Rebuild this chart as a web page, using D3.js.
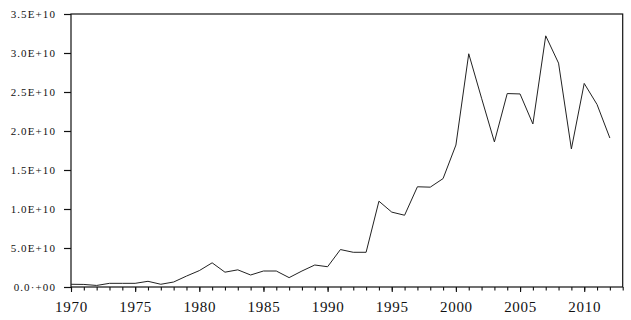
<!DOCTYPE html>
<html>
<head>
<meta charset="utf-8">
<script src="https://cdn.jsdelivr.net/npm/d3@7"></script>
<style>
  body { margin: 0; background: #fff; }
</style>
</head>
<body>
<div id="chart"></div>
<script>
// line chart, yearly values 1970-2012

const years = d3.range(1970, 2013);
// values in units of 1e9
const values = [0.35, 0.33, 0.2, 0.47, 0.47, 0.47, 0.73, 0.35, 0.64, 1.4,
  2.1, 3.1, 1.9, 2.2, 1.54, 2.05, 2.05, 1.2, 2.05, 2.82,
  2.6, 4.8, 4.45, 4.45, 11.0, 9.6, 9.2, 12.85, 12.8, 13.9,
  18.2, 29.9, 24.2, 18.6, 24.8, 24.75, 20.9, 32.2, 28.7, 17.7,
  26.1, 23.4, 19.1];
const yTicks = [0, 5e9, 1e10, 1.5e10, 2e10, 2.5e10, 3e10, 3.5e10];
const yTickLabels = ["0.0\u00b7+00", "5.0E+10", "1.0E+10", "1.5E+10", "2.0E+10", "2.5E+10", "3.0E+10", "3.5E+10"];
const xLabelYears = [1970, 1975, 1980, 1985, 1990, 1995, 2000, 2005, 2010];

const data = years.map((yr, i) => ({ year: yr, value: values[i] * 1e9 }));

const width = 631;
const height = 320;
const mLeft = 71, mRight = 622.7, mTop = 14, mBottom = 287;
const serif = "'Times New Roman', 'Liberation Serif', serif";

const svg = d3.select("#chart").append("svg")
  .attr("width", width)
  .attr("height", height);

const xScale = d3.scaleLinear()
  .domain([1970, 2013])
  .range([mLeft, mRight]);

const yScale = d3.scaleLinear()
  .domain([0, 3.5e10])
  .range([mBottom, mTop]);

// frame
svg.append("rect")
  .attr("x", mLeft)
  .attr("y", mTop)
  .attr("width", mRight - mLeft)
  .attr("height", mBottom - mTop)
  .attr("fill", "none")
  .attr("stroke", "#111")
  .attr("stroke-width", 1.2);

// y axis
const yAxis = svg.append("g")
  .attr("transform", `translate(${mLeft}, 0)`)
  .call(d3.axisLeft(yScale)
    .tickValues(yTicks)
    .tickSize(7)
    .tickPadding(8)
    .tickFormat((d, i) => yTickLabels[i]));
yAxis.select(".domain").remove();
yAxis.selectAll("line").attr("stroke", "#111").attr("stroke-width", 1.2);
yAxis.selectAll("text")
  .attr("fill", "#111")
  .style("font-family", serif)
  .style("font-size", "11px")
  .style("letter-spacing", "1.1px");

// x axis minor ticks (every year)
const xMinor = svg.append("g")
  .attr("transform", `translate(0, ${mBottom})`)
  .call(d3.axisBottom(xScale)
    .tickValues(d3.range(1970, 2014))
    .tickSize(3.5)
    .tickFormat(""));
xMinor.select(".domain").remove();
xMinor.selectAll("line").attr("stroke", "#111").attr("stroke-width", 1.1);

// x axis major ticks + labels
const xMajor = svg.append("g")
  .attr("transform", `translate(0, ${mBottom})`)
  .call(d3.axisBottom(xScale)
    .tickValues(xLabelYears)
    .tickSize(5)
    .tickPadding(9)
    .tickFormat(d3.format("d")));
xMajor.select(".domain").remove();
xMajor.selectAll("line").attr("stroke", "#111").attr("stroke-width", 1.1);
xMajor.selectAll("text")
  .attr("fill", "#111")
  .style("font-family", serif)
  .style("font-size", "15px")
  .style("letter-spacing", "0.7px");

// line
const line = d3.line()
  .x(d => xScale(d.year))
  .y(d => yScale(d.value));

svg.append("path")
  .datum(data)
  .attr("fill", "none")
  .attr("stroke", "#222")
  .attr("stroke-width", 1)
  .attr("d", line);
</script>
</body>
</html>
